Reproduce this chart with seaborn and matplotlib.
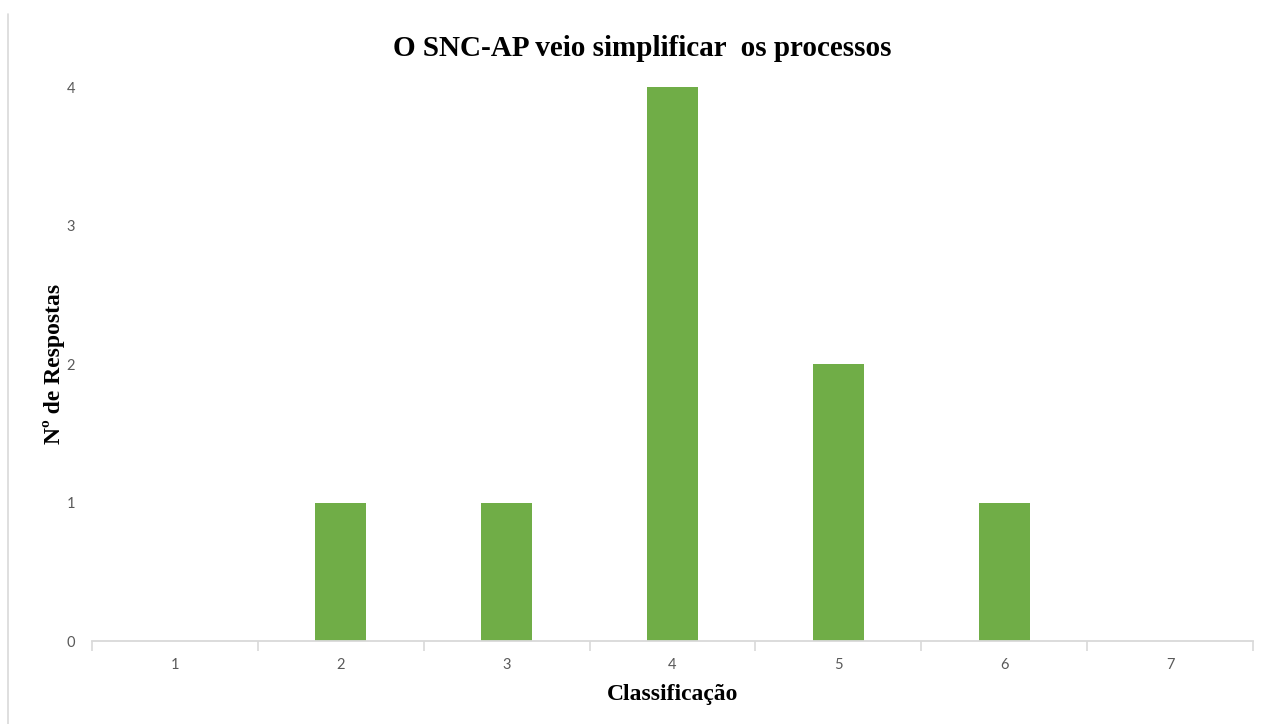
import matplotlib
matplotlib.use("Agg")
import matplotlib.pyplot as plt
from matplotlib.lines import Line2D
import seaborn as sns
import pandas as pd
import numpy as np

# Survey responses per rating
categories = ["1", "2", "3", "4", "5", "6", "7"]
responses = [0, 1, 1, 4, 2, 1, 0]
y_ticks = [0, 1, 2, 3, 4]

title = "O SNC-AP veio simplificar  os processos"
x_label = "Classificação"
y_label = "Nº de Respostas"

sns.set_theme(style="white")
plt.rcParams["font.family"] = ["Lato", "DejaVu Sans"]

df = pd.DataFrame({"cat": categories, "n": responses})

fig = plt.figure(figsize=(12.67, 7.24), dpi=100)
ax = fig.add_axes([0.0726, 0.1146, 0.9164, 0.7652])

sns.barplot(data=df, x="cat", y="n", order=categories, color="#70AD47",
            saturation=1, width=0.31, linewidth=0, ax=ax)

ax.set_xlim(-0.5, len(categories) - 0.5)
ax.set_ylim(0, 4)
ax.set_yticks(y_ticks)
ax.set_yticklabels([str(t) for t in y_ticks])

# category separators below the axis line
ax.set_xticks(np.arange(-0.5, len(categories), 1.0), minor=True)
ax.tick_params(axis="x", which="minor", length=7, width=1.2, color="#d9d9d9",
               direction="out", bottom=True)
ax.tick_params(axis="x", which="major", length=0, pad=12, labelsize=10.5,
               labelcolor="#595959")
ax.tick_params(axis="y", length=0, pad=12, labelsize=10.5, labelcolor="#595959")

for side in ["left", "right", "top"]:
    ax.spines[side].set_visible(False)
ax.spines["bottom"].set_color("#d9d9d9")
ax.spines["bottom"].set_linewidth(1.3)

serif = ["Liberation Serif", "DejaVu Serif"]
fig.text(0.507, 0.933, title, ha="center", va="center", fontsize=21,
         fontweight="bold", family=serif, color="black")
ax.set_xlabel(x_label, fontsize=17, fontweight="bold", family=serif,
              color="black", labelpad=9)
ax.set_ylabel(y_label, fontsize=17, fontweight="bold", family=serif,
              color="black", labelpad=1)

# thin frame line on the left edge
fig.add_artist(Line2D([0.0065, 0.0065], [0.0, 0.98], transform=fig.transFigure,
                      color="#d9d9d9", linewidth=1.2))

fig.savefig("out.png", dpi=100, facecolor="white")
